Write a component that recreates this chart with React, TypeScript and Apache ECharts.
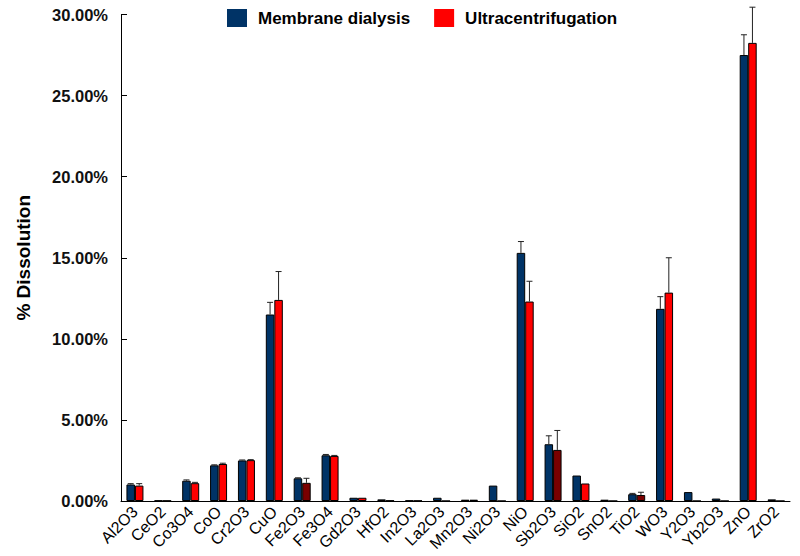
import React, { useEffect, useRef } from "react";
import * as echarts from "echarts";

const categories = [
  "Al2O3", "CeO2", "Co3O4", "CoO", "Cr2O3", "CuO", "Fe2O3", "Fe3O4", "Gd2O3", "HfO2",
  "In2O3", "La2O3", "Mn2O3", "Ni2O3", "NiO", "Sb2O3", "SiO2", "SnO2", "TiO2", "WO3",
  "Y2O3", "Yb2O3", "ZnO", "ZrO2",
];
const membrane = [1.02, 0.03, 1.25, 2.2, 2.5, 11.5, 1.4, 2.82, 0.2, 0.1, 0.03, 0.2, 0.08, 0.95, 15.3, 3.5, 1.57, 0.08, 0.42, 11.85, 0.55, 0.15, 27.5, 0.1];
const ultra = [0.95, 0.02, 1.1, 2.28, 2.52, 12.4, 1.12, 2.78, 0.2, 0.03, 0.02, 0, 0.08, 0, 12.3, 3.15, 1.08, 0, 0.37, 12.85, 0, 0, 28.25, 0];
const membraneErr = [0.05, 0, 0.05, 0.03, 0.03, 0.75, 0.03, 0.05, 0, 0, 0, 0, 0, 0, 0.7, 0.52, 0, 0, 0.05, 0.75, 0, 0, 1.25, 0];
const ultraErr = [0.12, 0, 0.05, 0.05, 0.03, 1.75, 0.28, 0.03, 0, 0, 0, 0, 0, 0, 1.25, 1.2, 0, 0, 0.17, 2.15, 0, 0, 2.2, 0];
const darkRedIdx = [6, 15, 18];
const yTicks = [0, 5, 10, 15, 20, 25, 30];

const BLUE = "#003366";
const RED = "#ff0000";
const DARKRED = "#7a0000";
const BAR_W = 8.5;
const FONT = "'Liberation Sans', Arial, sans-serif";

function errSeries(name: string, vals: number[], errs: number[], side: number) {
  const data = vals.map((v, i) => [i, v, errs[i]]).filter((d) => d[2] > 0);
  return {
    type: "custom",
    name: name + "_err",
    silent: true,
    clip: false,
    z: 5,
    data,
    renderItem: (_p: any, api: any) => {
      const idx = api.value(0);
      const v = api.value(1);
      const e = api.value(2);
      const base = api.coord([idx, v]);
      const top = api.coord([idx, v + e]);
      const x = base[0] + side * (BAR_W / 2);
      const style = { stroke: "#222", lineWidth: 1 };
      return {
        type: "group",
        children: [
          { type: "line", shape: { x1: x, y1: base[1], x2: x, y2: top[1] }, style },
          { type: "line", shape: { x1: x - 3, y1: top[1], x2: x + 3, y2: top[1] }, style },
        ],
      };
    },
  };
}

export default function App() {
  const ref = useRef<HTMLDivElement>(null);
  useEffect(() => {
    document.body.style.margin = "0";
    const chart = echarts.init(ref.current!, null, { renderer: "svg" });
    chart.setOption({
      animation: false,
      backgroundColor: "#ffffff",
      textStyle: { fontFamily: FONT },
      legend: {
        left: 222,
        top: 4,
        itemWidth: 20,
        itemHeight: 18,
        itemGap: 24,
        icon: "rect",
        data: ["Membrane dialysis", "Ultracentrifugation"],
        itemStyle: { borderWidth: 0 },
        textStyle: { fontFamily: FONT, fontWeight: "bold", fontSize: 17, color: "#000", padding: [0, 0, 0, 6] },
      },
      grid: { left: 121, right: 10, top: 14.5, bottom: 55, containLabel: false },
      xAxis: {
        type: "category",
        data: categories,
        axisLine: { lineStyle: { color: "#000", width: 1 } },
        axisTick: { inside: true, length: 4, lineStyle: { color: "#000" } },
        axisLabel: { rotate: 45, fontSize: 16, color: "#000", margin: 8, interval: 0, fontFamily: FONT },
      },
      yAxis: {
        type: "value",
        min: yTicks[0],
        max: yTicks[yTicks.length - 1],
        interval: 5,
        name: "% Dissolution",
        nameLocation: "middle",
        nameGap: 88,
        nameTextStyle: { fontFamily: FONT, fontWeight: "bold", fontSize: 19, color: "#000" },
        axisLine: { show: true, lineStyle: { color: "#000", width: 1 } },
        axisTick: { show: true, inside: true, length: 6, lineStyle: { color: "#000" } },
        splitLine: { show: false },
        axisLabel: {
          fontFamily: FONT,
          fontWeight: "bold",
          fontSize: 16.5,
          color: "#111",
          margin: 13,
          formatter: (v: number) => v.toFixed(2) + "%",
        },
      },
      series: [
        {
          type: "bar",
          name: "Membrane dialysis",
          data: membrane,
          barWidth: BAR_W,
          barGap: "0%",
          itemStyle: { color: BLUE, borderColor: "#000", borderWidth: 1 },
        },
        {
          type: "bar",
          name: "Ultracentrifugation",
          data: ultra.map((v, i) =>
            darkRedIdx.includes(i) ? { value: v, itemStyle: { color: DARKRED } } : v
          ),
          barWidth: BAR_W,
          barGap: "0%",
          itemStyle: { color: RED, borderColor: "#000", borderWidth: 1 },
        },
        errSeries("Membrane dialysis", membrane, membraneErr, -1),
        errSeries("Ultracentrifugation", ultra, ultraErr, 1),
      ],
    });
    return () => chart.dispose();
  }, []);
  return <div ref={ref} style={{ width: 800, height: 556 }} />;
}
